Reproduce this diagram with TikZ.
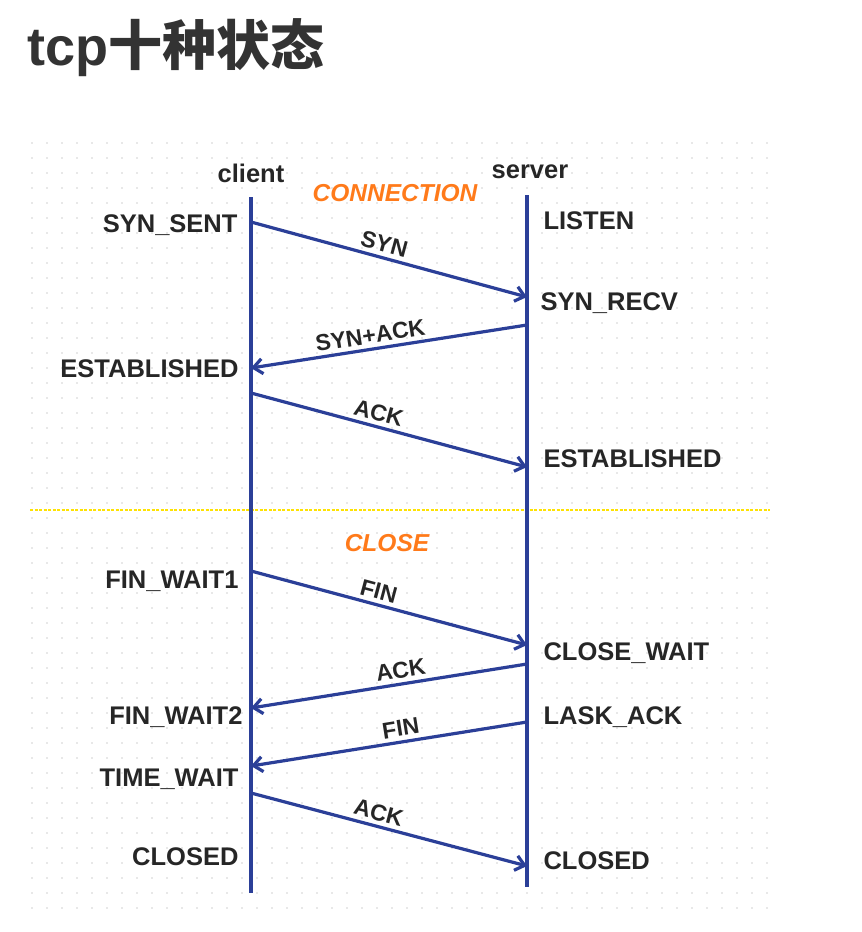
\documentclass[tikz,border=0pt]{standalone}
\usepackage{fontspec}
\setmainfont{Liberation Sans}
\newfontfamily\cjk{Noto Sans CJK SC}
\usetikzlibrary{arrows.meta}
\definecolor{seq}{HTML}{2B3F98}
\definecolor{org}{HTML}{FF7A1A}
\begin{document}
\begin{tikzpicture}[x=1pt,y=-1pt,
  lbl/.style={font=\fontsize{25.5}{28}\selectfont\bfseries,text=black!85},
  head/.style={font=\fontsize{24.5}{28}\selectfont\bfseries\itshape,text=org},
  life/.style={seq,line width=3.6pt},
  msg/.style={seq,line width=3.2pt,-{Straight Barb[length=9pt,width=15pt,line width=3.2pt]}},
  mlbl/.style={font=\fontsize{23}{26}\selectfont\bfseries,text=black!85,sloped,above,inner sep=4pt}]
\useasboundingbox (0,0) rectangle (862,932);
\fill[white] (0,0) rectangle (862,932);
\foreach \i in {0,...,49}{\foreach \j in {0,...,51}{
  \fill[black!18] (32+\i*15,143+\j*15) circle (0.9);}}
\node[anchor=west,font=\fontsize{54}{60}\selectfont\bfseries,text=black!80] (title) at (24,48) {tcp{\cjk 十种状态}};
\draw[draw=yellow!85!orange,line width=2pt,dash pattern=on 3pt off 1.5pt] (30,510) -- (770,510);
\node[lbl] (client) at (251,173) {client};
\node[lbl] (server) at (530,172) {server};
\node[head] (conn) at (395,193) {CONNECTION};
\node[head] (close) at (387,543) {CLOSE};
\coordinate (ct) at (251,197); \coordinate (cb) at (251,893);
\coordinate (st) at (527,195); \coordinate (sb) at (527,887);
\draw[life] (ct) -- (cb);
\draw[life] (st) -- (sb);
\coordinate (c1) at (251,222); \coordinate (s1) at (527,297);
\coordinate (s2) at (527,325); \coordinate (c2) at (251,368);
\coordinate (c3) at (251,393); \coordinate (s3) at (527,467);
\coordinate (c4) at (251,571); \coordinate (s4) at (527,645);
\coordinate (s5) at (527,664); \coordinate (c5) at (251,708);
\coordinate (s6) at (527,722); \coordinate (c6) at (251,766);
\coordinate (c7) at (251,793); \coordinate (s7) at (527,866);
\draw[msg] (c1) -- node[mlbl,pos=0.47] {SYN} (s1);
\draw[msg] (s2) -- node[mlbl,pos=0.56] {SYN+ACK} (c2);
\draw[msg] (c3) -- node[mlbl,pos=0.45] {ACK} (s3);
\draw[msg] (c4) -- node[mlbl,pos=0.45] {FIN} (s4);
\draw[msg] (s5) -- node[mlbl,pos=0.45] {ACK} (c5);
\draw[msg] (s6) -- node[mlbl,pos=0.45] {FIN} (c6);
\draw[msg] (c7) -- node[mlbl,pos=0.45] {ACK} (s7);
\node[lbl,anchor=east] (l1) at (241,225) {SYN\_SENT};
\node[lbl,anchor=east] (l2) at (242,369) {ESTABLISHED};
\node[lbl,anchor=east] (l3) at (242,581) {FIN\_WAIT1};
\node[lbl,anchor=east] (l4) at (246,717) {FIN\_WAIT2};
\node[lbl,anchor=east] (l5) at (242,779) {TIME\_WAIT};
\node[lbl,anchor=east] (l6) at (242,857) {CLOSED};
\node[lbl,anchor=west] (r1) at (540,221) {LISTEN};
\node[lbl,anchor=west] (r2) at (537,303) {SYN\_RECV};
\node[lbl,anchor=west] (r3) at (540,459) {ESTABLISHED};
\node[lbl,anchor=west] (r4) at (540,653) {CLOSE\_WAIT};
\node[lbl,anchor=west] (r5) at (540,717) {LASK\_ACK};
\node[lbl,anchor=west] (r6) at (540,861) {CLOSED};
\end{tikzpicture}
\end{document}
